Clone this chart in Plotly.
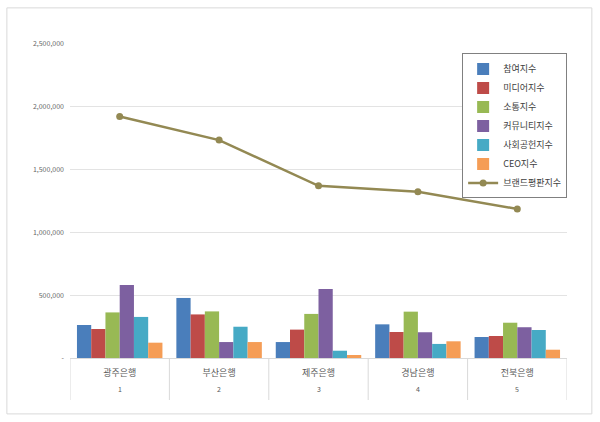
import plotly.graph_objects as go

banks = ["광주은행", "부산은행", "제주은행", "경남은행", "전북은행"]
ranks = ["1", "2", "3", "4", "5"]

series_names = ["참여지수", "미디어지수", "소통지수", "커뮤니티지수", "사회공헌지수", "CEO지수"]
participation = [263000, 478000, 127000, 268000, 167000]
media = [231000, 347000, 226000, 207000, 175000]
communication = [363000, 371000, 351000, 369000, 281000]
community = [582000, 127000, 550000, 205000, 245000]
social = [327000, 249000, 58000, 112000, 223000]
ceo = [122000, 127000, 24000, 133000, 66000]
brand = [1923000, 1735000, 1371000, 1323000, 1187000]

colors = ["#4A7EBB", "#BE4B48", "#98B954", "#7D60A0", "#46AAC5", "#F59D56"]
line_color = "#938953"

fig = go.Figure()
for name, vals, c in zip(series_names,
                         [participation, media, communication, community, social, ceo],
                         colors):
    fig.add_trace(go.Bar(name=name, x=banks, y=vals, marker=dict(color=c, line=dict(width=0))))

fig.add_trace(go.Scatter(name="브랜드평판지수", x=banks, y=brand, mode="lines+markers",
                         line=dict(color=line_color, width=2.5),
                         marker=dict(color=line_color, size=7)))

tickvals = [0, 500000, 1000000, 1500000, 2000000, 2500000]
ticktext = ["-", "500,000", "1,000,000", "1,500,000", "2,000,000", "2,500,000"]

divider_bottom = (358 - 400) / 314
shapes = [dict(type="rect", xref="paper", yref="paper",
               x0=-0.127, x1=1.050, y0=-0.178, y1=1.115,
               line=dict(color="#D9D9D9", width=1), fillcolor="rgba(0,0,0,0)",
               layer="below")]
for i in range(len(banks) + 1):
    shapes.append(dict(type="line", xref="x", yref="paper",
                       x0=i - 0.5, x1=i - 0.5, y0=0, y1=divider_bottom,
                       line=dict(color="#D9D9D9", width=1)))

annotations = [dict(x=b, y=(358 - 389) / 314, xref="x", yref="paper", text=r,
                    showarrow=False, font=dict(size=7, color="#595959"),
                    xanchor="center", yanchor="middle")
               for b, r in zip(banks, ranks)]

fig.update_layout(
    width=600, height=422,
    margin=dict(l=70, r=33, t=44, b=64),
    paper_bgcolor="white", plot_bgcolor="white",
    barmode="group", bargap=0.14, bargroupgap=0,
    font=dict(family="Noto Sans CJK KR, Noto Sans, sans-serif", color="#595959"),
    showlegend=True,
    legend=dict(x=0.789, y=0.97, xanchor="left", yanchor="top",
                bgcolor="white", bordercolor="#808080", borderwidth=1,
                font=dict(size=9, color="#404040"), tracegroupgap=0,
                itemwidth=30),
    yaxis=dict(range=[0, 2500000], tickvals=tickvals, ticktext=ticktext,
               showgrid=True, gridcolor="#E3E3E3", gridwidth=1, zeroline=False,
               tickfont=dict(size=7, color="#666666"), ticks="", showline=False,
               ticklabelstandoff=5, fixedrange=True),
    xaxis=dict(type="category", range=[-0.5, len(banks) - 0.5],
               showline=True, linecolor="#D9D9D9",
               tickfont=dict(size=9, color="#595959"), ticks="",
               ticklabelstandoff=6, showgrid=False),
    shapes=shapes,
    annotations=annotations,
)

fig.write_html("out.html")
